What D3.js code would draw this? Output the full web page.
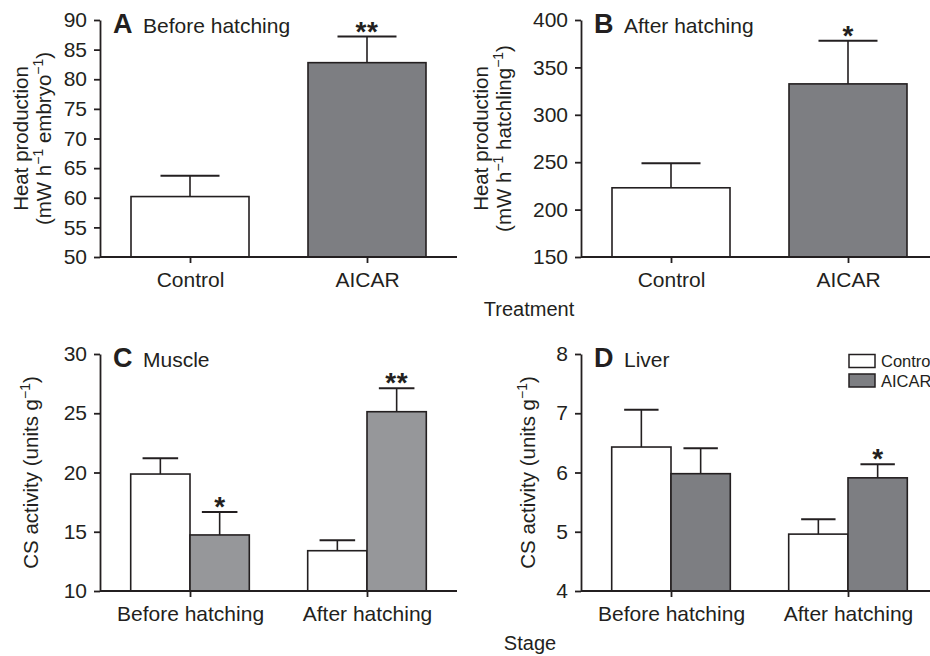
<!DOCTYPE html>
<html>
<head>
<meta charset="utf-8">
<script src="https://cdn.jsdelivr.net/npm/d3@7"></script>
<style>
	body { margin: 0; background: #fff; }
	svg { font-family: "Liberation Sans", Arial, Helvetica, sans-serif; }
</style>
</head>
<body>
<div id="wrapper"></div>
<script>
// ---- data ----
const treatments = ["Control", "AICAR"];
const stages = ["Before hatching", "After hatching"];

// A: heat production before hatching (mW h-1 embryo-1)
const heatBefore = [60.2, 82.8];
const heatBeforeSem = [3.5, 4.4];
const heatBeforeSig = ["", "**"];

// B: heat production after hatching (mW h-1 hatchling-1)
const heatAfter = [223, 332.6];
const heatAfterSem = [26, 45.4];
const heatAfterSig = ["", "*"];

// C: muscle CS activity (units g-1), per stage
const muscleControl = [19.87, 13.4];
const muscleControlSem = [1.33, 0.88];
const muscleAicar = [14.73, 25.13];
const muscleAicarSem = [1.94, 1.97];
const muscleAicarSig = ["*", "**"];

// D: liver CS activity (units g-1), per stage
const liverControl = [6.43, 4.96];
const liverControlSem = [0.63, 0.25];
const liverAicar = [5.98, 5.91];
const liverAicarSem = [0.43, 0.23];
const liverAicarSig = ["", "*"];

const yTicksA = [50, 55, 60, 65, 70, 75, 80, 85, 90];
const yTicksB = [150, 200, 250, 300, 350, 400];
const yTicksC = [10, 15, 20, 25, 30];
const yTicksD = [4, 5, 6, 7, 8];

// ---- styles ----
const INK = "#231f20";
const WHITE = "#ffffff";
const GREY = "#7d7e82";
const GREY_LIGHT = "#96979a";
const W = 930, H = 656;

const svg = d3.select("#wrapper").append("svg")
	.attr("width", W).attr("height", H)
	.attr("viewBox", `0 0 ${W} ${H}`);

function drawPanel(p) {
	const g = svg.append("g");
	const width = 357;

	const yScale = d3.scaleLinear()
		.domain(d3.extent(p.yTicks))
		.range([p.bottom, p.top]);
	const xScale = d3.scalePoint()
		.domain(p.categories)
		.range([p.left, p.left + width])
		.padding(0.5085);

	// bars + error bars
	p.series.forEach((s) => {
		s.values.forEach((v, i) => {
			const cx = xScale(p.categories[i]) + s.offset * p.barWidth;
			const x0 = cx - p.barWidth / 2;
			const yTop = yScale(v);
			const yErr = yScale(v + s.sem[i]);
			const cap = p.barWidth * p.capFrac;
			g.append("line")
				.attr("x1", cx).attr("x2", cx)
				.attr("y1", yTop).attr("y2", yErr)
				.attr("stroke", INK).attr("stroke-width", 1.6);
			g.append("line")
				.attr("x1", cx - cap).attr("x2", cx + cap)
				.attr("y1", yErr).attr("y2", yErr)
				.attr("stroke", INK).attr("stroke-width", 2);
			g.append("rect")
				.attr("x", x0).attr("y", yTop)
				.attr("width", p.barWidth)
				.attr("height", p.bottom - yTop)
				.attr("fill", Array.isArray(s.fill) ? s.fill[i] : s.fill)
				.attr("stroke", INK).attr("stroke-width", 1.6);
			if (s.sig && s.sig[i]) {
				g.append("text")
					.attr("x", cx).attr("y", yErr + 4)
					.attr("text-anchor", "middle")
					.attr("font-size", 28)
					.attr("font-weight", "bold")
					.attr("letter-spacing", s.sig[i].length > 1 ? 0.5 : 0)
					.attr("fill", INK)
					.text(s.sig[i]);
			}
		});
	});

	// axes
	const yAxis = g.append("g")
		.attr("transform", `translate(${p.left},0)`)
		.call(d3.axisLeft(yScale).tickValues(p.yTicks).tickFormat(d3.format("d"))
			.tickSize(6).tickPadding(7).tickSizeOuter(0));
	const xAxis = g.append("g")
		.attr("transform", `translate(0,${p.bottom})`)
		.call(d3.axisBottom(xScale).tickSize(6).tickSizeOuter(0));
	xAxis.select(".domain").attr("d", `M${p.left},0H${p.left + width}`);
	xAxis.selectAll("text").attr("y", 30).attr("dy", 0);
	for (const ax of [yAxis, xAxis]) {
		ax.attr("font-family", null).attr("font-size", 21);
		ax.selectAll(".domain, line").attr("stroke", INK).attr("stroke-width", 1.8);
		ax.selectAll("text").attr("fill", INK);
	}

	// panel title
	g.append("text")
		.attr("x", p.left + 13).attr("y", p.top + 13)
		.attr("font-size", 27).attr("font-weight", "bold").attr("fill", INK)
		.text(p.letter);
	g.append("text")
		.attr("x", p.left + 43).attr("y", p.top + 13)
		.attr("font-size", 21).attr("fill", INK)
		.text(p.title);

	// y label lines (rotated)
	const midY = (p.top + p.bottom) / 2;
	p.yLabel.forEach((parts, li) => {
		const t = g.append("text")
			.attr("transform", `translate(${p.labelX[li]},${midY}) rotate(-90)`)
			.attr("text-anchor", "middle")
			.attr("font-size", 20.5).attr("fill", INK);
		let raised = false;
		parts.forEach(([str, sup]) => {
			t.append("tspan").attr("dy", raised ? 8 : null).text(str);
			raised = false;
			if (sup) {
				t.append("tspan").attr("dy", -8).attr("font-size", 14).text(sup);
				raised = true;
			}
		});
	});
}

drawPanel({
	letter: "A", title: "Before hatching",
	left: 100, top: 20, bottom: 257,
	yTicks: yTicksA, categories: treatments,
	barWidth: 118, capFrac: 0.25,
	series: [{
		values: heatBefore, sem: heatBeforeSem, sig: heatBeforeSig, offset: 0,
		fill: [WHITE, GREY],
	}],
	yLabel: [[["Heat production"]], [["(mW h", "\u22121"], [" embryo", "\u22121"], [")"]]],
	labelX: [28, 51],
});

drawPanel({
	letter: "B", title: "After hatching",
	left: 581, top: 20, bottom: 257,
	yTicks: yTicksB, categories: treatments,
	barWidth: 118, capFrac: 0.25,
	series: [{
		values: heatAfter, sem: heatAfterSem, sig: heatAfterSig, offset: 0,
		fill: [WHITE, GREY],
	}],
	yLabel: [[["Heat production"]], [["(mW h", "\u22121"], [" hatchling", "\u22121"], [")"]]],
	labelX: [488, 511],
});

drawPanel({
	letter: "C", title: "Muscle",
	left: 100, top: 354, bottom: 591,
	yTicks: yTicksC, categories: stages,
	barWidth: 59.3, capFrac: 0.3,
	series: [
		{ values: muscleControl, sem: muscleControlSem, offset: -0.5, fill: WHITE },
		{ values: muscleAicar, sem: muscleAicarSem, sig: muscleAicarSig, offset: 0.5, fill: GREY_LIGHT },
	],
	yLabel: [[["CS activity (units g", "\u22121"], [")"]]],
	labelX: [38],
});

drawPanel({
	letter: "D", title: "Liver",
	left: 581, top: 354, bottom: 591,
	yTicks: yTicksD, categories: stages,
	barWidth: 59.3, capFrac: 0.29,
	series: [
		{ values: liverControl, sem: liverControlSem, offset: -0.5, fill: WHITE },
		{ values: liverAicar, sem: liverAicarSem, sig: liverAicarSig, offset: 0.5, fill: GREY },
	],
	yLabel: [[["CS activity (units g", "\u22121"], [")"]]],
	labelX: [535],
});

// shared x-axis titles
svg.append("text")
	.attr("x", 529).attr("y", 316)
	.attr("text-anchor", "middle").attr("font-size", 20).attr("fill", INK)
	.text("Treatment");
svg.append("text")
	.attr("x", 530).attr("y", 650)
	.attr("text-anchor", "middle").attr("font-size", 20).attr("fill", INK)
	.text("Stage");

// legend (panel D), runs off the right edge as in the figure
const legend = [["Control", WHITE], ["AICAR", GREY]];
legend.forEach(([name, fill], i) => {
	svg.append("rect")
		.attr("x", 849).attr("y", 354.5 + i * 19.5)
		.attr("width", 26).attr("height", 13)
		.attr("fill", fill).attr("stroke", INK).attr("stroke-width", 1.5);
	svg.append("text")
		.attr("x", 881).attr("y", 366.5 + i * 20)
		.attr("font-size", 16.5).attr("fill", INK)
		.text(name);
});
</script>
</body>
</html>
